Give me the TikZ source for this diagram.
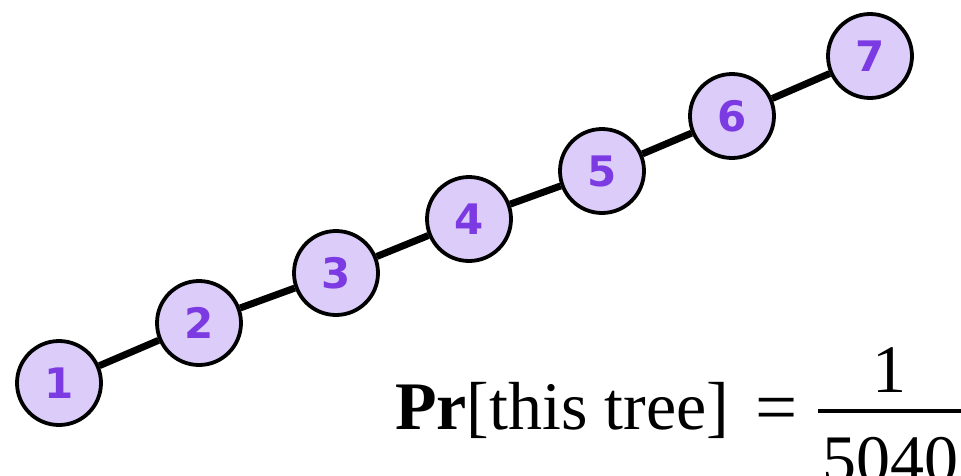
\documentclass[tikz,border=0pt]{standalone}
\usepackage{fontspec}
\setmainfont{Liberation Serif}
\newfontfamily\numfont{DejaVu Sans}
\definecolor{nodefill}{RGB}{220,204,250}
\definecolor{numcol}{RGB}{124,58,226}
\tikzset{
  treenode/.style={circle, draw=black, line width=3.8pt, fill=nodefill, minimum size=84pt, inner sep=0pt,
    font=\numfont\bfseries\fontsize{42}{44}\selectfont, text=numcol},
  treeedge/.style={draw=black, line width=7pt},
  formula/.style={inner sep=0pt, font=\fontsize{68}{72}\selectfont}
}
\begin{document}
\begin{tikzpicture}[x=1pt,y=-1pt]
\useasboundingbox (0,0) rectangle (961,475);
\node[treenode] (n1) at (59,383) {1};
\node[treenode] (n2) at (199,323) {2};
\node[treenode] (n3) at (336,273) {3};
\node[treenode] (n4) at (469,219) {4};
\node[treenode] (n5) at (602,171) {5};
\node[treenode] (n6) at (732,116) {6};
\node[treenode] (n7) at (870,56) {7};
\path[treeedge] (n1) -- (n2) (n2) -- (n3) (n3) -- (n4) (n4) -- (n5) (n5) -- (n6) (n6) -- (n7);
\node[formula, anchor=base west] (lhs) at (395,429) {\textbf{Pr}[this tree]};
\node[formula, anchor=base, scale=1.1] (eq) at (777,432) {=};
\coordinate (barl) at (818,411);
\coordinate (barr) at (961,411);
\draw[line width=4pt] (barl) -- (barr);
\node[formula, anchor=base] (num) at (889,392) {1};
\node[formula, anchor=base] (den) at (890,482) {5040};
\end{tikzpicture}
\end{document}
